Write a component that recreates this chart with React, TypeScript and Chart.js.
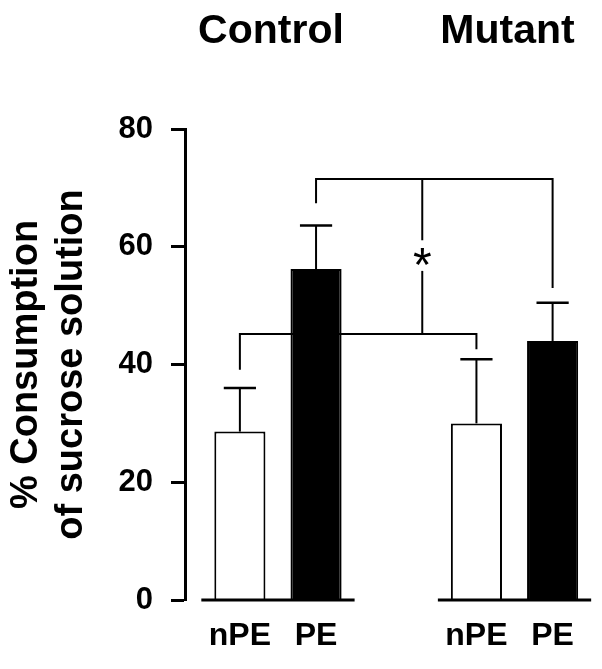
import React, { useEffect, useRef } from 'react';
import { Chart, registerables } from 'chart.js';

Chart.register(...registerables);

// ---- data ----
const groups = ['Control', 'Mutant'];
const conditions = ['nPE', 'PE'];
const nPEValues = [28.6, 30.0];
const nPEErrors = [7.4, 10.9];
const PEValues = [56.2, 44.0];
const PEErrors = [7.4, 6.5];
const yTicks = [0, 20, 40, 60, 80];
const yTitle = ['% Consumption', 'of sucrose solution'];
// significance brackets (values in y units): connects same condition across groups
const bracketDataset = [0, 1];
const bracketLevel = [45.2, 71.5];
const bracketLegLeft = [39.1, 67.4];
const bracketLegRight = [42.6, 53.0];
const stemGroupPos = 0.61; // between groups, on the group scale
const starLabel = '*';
const starValue = 58.2;
const starGapValues = [55.9, 61.1];

const CAT_PCT = 0.644;
const BAR_PCT = 0.671;
const FONT = '"Liberation Sans", Arial, Helvetica, sans-serif';

const annotationPlugin = {
  id: 'annotationsCustom',
  afterDatasetsDraw(chart: any) {
    const { ctx } = chart;
    const ys = chart.scales.y;
    const xs = chart.scales.xTop;
    const metas = [chart.getDatasetMeta(0).data, chart.getDatasetMeta(1).data];
    const vals = [nPEValues, PEValues];
    const errs = [nPEErrors, PEErrors];
    const line = (x1: number, y1: number, x2: number, y2: number) => {
      ctx.beginPath();
      ctx.moveTo(x1, y1);
      ctx.lineTo(x2, y2);
      ctx.stroke();
    };
    ctx.save();
    ctx.strokeStyle = '#000';
    ctx.fillStyle = '#000';
    ctx.lineCap = 'butt';
    // error bars (upper only)
    metas.forEach((els: any[], d: number) => {
      els.forEach((el: any, i: number) => {
        const top = ys.getPixelForValue(vals[d][i]);
        const et = ys.getPixelForValue(vals[d][i] + errs[d][i]);
        const half = el.width * 0.315;
        ctx.lineWidth = 2;
        line(el.x, top, el.x, et);
        ctx.lineWidth = 2.5;
        line(el.x - half, et, el.x + half, et);
      });
    });
    // split x axis baseline per group
    const y0 = ys.getPixelForValue(0);
    ctx.lineWidth = 3;
    groups.forEach((_, i) => {
      const a = metas[0][i];
      const b = metas[1][i];
      line(a.x - a.width / 2 - 13, y0, b.x + b.width / 2 + 13, y0);
    });
    // brackets
    ctx.lineWidth = 2;
    bracketDataset.forEach((d, k) => {
      const els = metas[d];
      const yl = ys.getPixelForValue(bracketLevel[k]);
      const xl = els[0].x;
      const xr = els[1].x;
      ctx.beginPath();
      ctx.moveTo(xl, ys.getPixelForValue(bracketLegLeft[k]));
      ctx.lineTo(xl, yl);
      ctx.lineTo(xr, yl);
      ctx.lineTo(xr, ys.getPixelForValue(bracketLegRight[k]));
      ctx.stroke();
    });
    const sx = xs.getPixelForValue(stemGroupPos);
    line(sx, ys.getPixelForValue(bracketLevel[0]), sx, ys.getPixelForValue(starGapValues[0]));
    line(sx, ys.getPixelForValue(starGapValues[1]), sx, ys.getPixelForValue(bracketLevel[1]));
    // asterisk
    const fs = 48;
    ctx.font = `${fs}px ${FONT}`;
    ctx.textAlign = 'center';
    ctx.textBaseline = 'alphabetic';
    ctx.fillText(starLabel, sx, ys.getPixelForValue(starValue) + fs * 0.5);
    ctx.restore();
  },
};

export default function App() {
  const ref = useRef<HTMLCanvasElement | null>(null);
  useEffect(() => {
    if (!ref.current) return;
    Chart.defaults.font.family = FONT;
    Chart.defaults.color = '#000';
    const xMin = -0.393;
    const xMax = 1.336;
    const subOffset = CAT_PCT / 4;
    const chart = new Chart(ref.current, {
      type: 'bar',
      data: {
        datasets: [
          {
            label: conditions[0],
            data: nPEValues.map((v, i) => ({ x: i, y: v })),
            backgroundColor: '#ffffff',
            borderColor: '#000000',
            borderWidth: 2,
            xAxisID: 'xTop',
            yAxisID: 'y',
            categoryPercentage: CAT_PCT,
            barPercentage: BAR_PCT,
          },
          {
            label: conditions[1],
            data: PEValues.map((v, i) => ({ x: i, y: v })),
            backgroundColor: '#000000',
            borderColor: '#000000',
            borderWidth: 2,
            xAxisID: 'xTop',
            yAxisID: 'y',
            categoryPercentage: CAT_PCT,
            barPercentage: BAR_PCT,
          },
        ],
      },
      options: {
        responsive: false,
        animation: false,
        layout: { padding: 0 },
        plugins: {
          legend: { display: false },
          tooltip: { enabled: false },
          title: { display: false },
        },
        scales: {
          xTop: {
            type: 'linear',
            position: 'top',
            offset: false,
            min: xMin,
            max: xMax,
            grid: { display: false, drawTicks: false, offset: false },
            border: { display: false },
            afterBuildTicks: (s: any) => {
              s.ticks = groups.map((_, i) => ({ value: i }));
            },
            afterFit: (s: any) => {
              s.height = 121;
              s.paddingLeft = 0;
              s.paddingRight = 0;
            },
            ticks: {
              autoSkip: false,
              maxRotation: 0,
              minRotation: 0,
              padding: 73,
              labelOffset: -7,
              color: '#000',
              font: { size: 41, weight: 'bold' },
              callback: (v: any) => groups[v] ?? '',
            },
          },
          x: {
            type: 'linear',
            position: 'bottom',
            offset: false,
            min: xMin,
            max: xMax,
            grid: { display: false, drawTicks: false, offset: false },
            border: { display: false },
            afterBuildTicks: (s: any) => {
              const t: any[] = [];
              groups.forEach((_, i) => {
                t.push({ value: i - subOffset });
                t.push({ value: i + subOffset });
              });
              s.ticks = t;
            },
            afterFit: (s: any) => {
              s.height = 61;
              s.paddingLeft = 0;
              s.paddingRight = 0;
            },
            ticks: {
              autoSkip: false,
              maxRotation: 0,
              minRotation: 0,
              padding: 17,
              color: '#000',
              font: { size: 32, weight: 'bold' },
              callback: (_v: any, idx: number) => conditions[idx % conditions.length],
            },
          },
          y: {
            type: 'linear',
            position: 'left',
            min: yTicks[0],
            max: yTicks[yTicks.length - 1],
            afterBuildTicks: (s: any) => {
              s.ticks = yTicks.map((v) => ({ value: v }));
            },
            afterFit: (s: any) => {
              s.width = 177;
            },
            grid: {
              display: true,
              drawOnChartArea: false,
              drawTicks: true,
              tickLength: 14,
              tickWidth: 3,
              tickColor: '#000',
              color: '#000',
            },
            border: { display: true, width: 3, color: '#000' },
            ticks: {
              padding: 18,
              color: '#000',
              font: { size: 31, weight: 'bold' },
            },
            title: {
              display: true,
              text: yTitle,
              color: '#000',
              font: { size: 38, weight: 'bold', lineHeight: 1.18 },
              padding: { top: -4, bottom: 0 },
            },
          },
        },
      },
      plugins: [annotationPlugin],
    } as any);
    return () => chart.destroy();
  }, []);
  return (
    <div style={{ width: 586, height: 653 }}>
      <canvas ref={ref} width={586} height={653} style={{ display: 'block' }} />
    </div>
  );
}
